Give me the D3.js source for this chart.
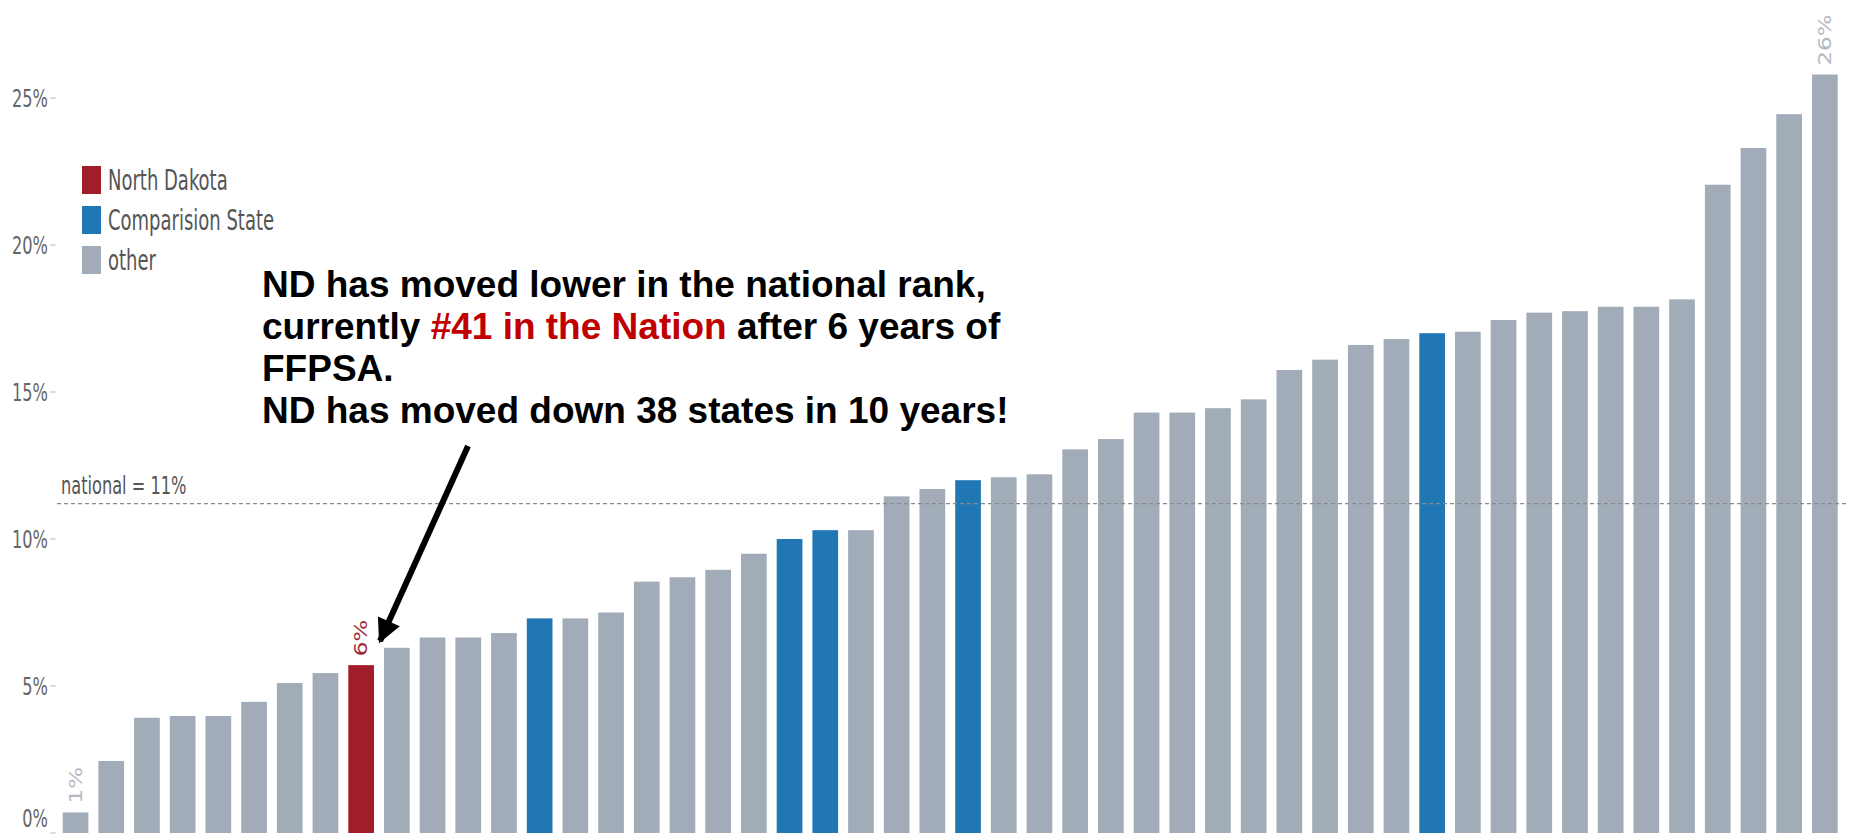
<!DOCTYPE html>
<html>
<head>
<meta charset="utf-8">
<script src="https://cdn.jsdelivr.net/npm/d3@7"></script>
<style>
  body { margin: 0; background: #fff; }
  .lbl { font-family: "DejaVu Sans Condensed", "DejaVu Sans", sans-serif; font-stretch: condensed; }
  .note { font-family: "Liberation Sans", Arial, sans-serif; font-weight: bold; }
</style>
</head>
<body>
<div id="chart"></div>
<script>
const width = 1849;
const height = 836;

// share of cases per state, sorted low to high
const values = [0.7, 2.45, 3.92, 3.98, 3.98, 4.46, 5.1, 5.44, 5.71, 6.3,
  6.65, 6.65, 6.8, 7.3, 7.3, 7.5, 8.55, 8.7, 8.95, 9.5,
  10.0, 10.3, 10.3, 11.45, 11.7, 12.0, 12.1, 12.2, 13.05, 13.4,
  14.3, 14.3, 14.45, 14.75, 15.75, 16.1, 16.6, 16.8, 17.0, 17.05,
  17.45, 17.7, 17.75, 17.9, 17.9, 18.15, 22.05, 23.3, 24.45, 25.8];
const groups = ["other", "other", "other", "other", "other", "other", "other", "other", "nd", "other",
  "other", "other", "other", "comp", "other", "other", "other", "other", "other", "other",
  "comp", "comp", "other", "other", "other", "comp", "other", "other", "other", "other",
  "other", "other", "other", "other", "other", "other", "other", "other", "comp", "other",
  "other", "other", "other", "other", "other", "other", "other", "other", "other", "other"];
const categories = values.map((v, i) => "state " + (i + 1));
const labelled = [0, 8, 49];
const yTicks = [0, 5, 10, 15, 20, 25];
const national = 11.2;

const legendKeys = ["nd", "comp", "other"];
const legendNames = ["North Dakota", "Comparision State", "other"];
const color = d3.scaleOrdinal()
  .domain(legendKeys)
  .range(["#a11d29", "#2077b4", "#a2acb9"]);

const noteLines = [
  [["ND has moved lower in the national rank,", "#000"]],
  [["currently ", "#000"], ["#41 in the Nation", "#c00000"], [" after 6 years of", "#000"]],
  [["FFPSA.", "#000"]],
  [["ND has moved down 38 states in 10 years!", "#000"]]
];

const svg = d3.select("#chart").append("svg")
  .attr("width", width)
  .attr("height", height);

const x = d3.scaleBand()
  .domain(categories)
  .range([57.7, 1842.7])
  .paddingInner(0.28)
  .paddingOuter(0.14);

const y = d3.scaleLinear()
  .domain([0, 25])
  .range([833, 98]);

// y axis: small ticks and stretched condensed labels
const axis = svg.append("g");
axis.selectAll("line")
  .data(yTicks)
  .join("line")
  .attr("x1", 50).attr("x2", 56)
  .attr("y1", d => y(d)).attr("y2", d => y(d))
  .attr("stroke", "#bbb");
axis.selectAll("text")
  .data(yTicks)
  .join("text")
  .attr("class", "lbl")
  .attr("transform", d => `translate(48,${y(d) - (d === 0 ? 15 : 0)}) scale(1,1.4)`)
  .attr("text-anchor", "end")
  .attr("dy", "0.36em")
  .attr("font-size", 18)
  .attr("fill", "#666")
  .text(d => d + "%");

// bars
svg.append("g")
  .selectAll("rect")
  .data(values)
  .join("rect")
  .attr("x", (d, i) => x(categories[i]))
  .attr("y", d => y(d))
  .attr("width", x.bandwidth())
  .attr("height", d => y(0) - y(d))
  .attr("fill", (d, i) => color(groups[i]));

// value labels on first, ND and last bars
svg.append("g")
  .selectAll("text")
  .data(labelled)
  .join("text")
  .attr("class", "lbl")
  .attr("transform", i => `translate(${x(categories[i]) + x.bandwidth() / 2},${y(values[i]) - 9}) rotate(-90) scale(1.5,1)`)
  .attr("dy", "0.36em")
  .attr("font-size", 17)
  .attr("fill", i => groups[i] === "nd" ? "#9e2a33" : "#b3b9c2")
  .text(i => Math.round(values[i]) + "%");

// national reference line
svg.append("line")
  .attr("x1", 57).attr("x2", width)
  .attr("y1", y(national)).attr("y2", y(national))
  .attr("stroke", "#8a8a8a")
  .attr("stroke-width", 1.3)
  .attr("stroke-dasharray", "4,3");
svg.append("text")
  .attr("class", "lbl")
  .attr("transform", `translate(61,${y(national) - 10}) scale(1,1.4)`)
  .attr("font-size", 18)
  .attr("fill", "#555")
  .text("national = 11%");

// legend
const legend = svg.append("g")
  .selectAll("g")
  .data(legendKeys)
  .join("g")
  .attr("transform", (d, i) => `translate(82,${166 + i * 40})`);
legend.append("rect")
  .attr("width", 19)
  .attr("height", 28)
  .attr("fill", d => color(d));
legend.append("text")
  .attr("class", "lbl")
  .attr("transform", "translate(26,14) scale(1,1.4)")
  .attr("dy", "0.36em")
  .attr("font-size", 20)
  .attr("fill", "#555")
  .text((d, i) => legendNames[i]);

// annotation
const note = svg.append("text")
  .attr("class", "note")
  .attr("font-size", 37);
noteLines.forEach((line, i) => {
  line.forEach((part, j) => {
    const t = note.append("tspan")
      .attr("fill", part[1])
      .text(part[0]);
    if (j === 0) t.attr("x", 262).attr("y", 297 + i * 42);
  });
});

svg.append("defs").append("marker")
  .attr("id", "head")
  .attr("markerUnits", "userSpaceOnUse")
  .attr("viewBox", "0 0 10 10")
  .attr("refX", 9).attr("refY", 5)
  .attr("markerWidth", 26).attr("markerHeight", 24)
  .attr("orient", "auto")
  .append("path")
  .attr("d", "M0,0L10,5L0,10Z")
  .attr("fill", "#000");

svg.append("line")
  .attr("x1", 468).attr("y1", 446)
  .attr("x2", 380).attr("y2", 641)
  .attr("stroke", "#000")
  .attr("stroke-width", 6)
  .attr("marker-end", "url(#head)");
</script>
</body>
</html>
